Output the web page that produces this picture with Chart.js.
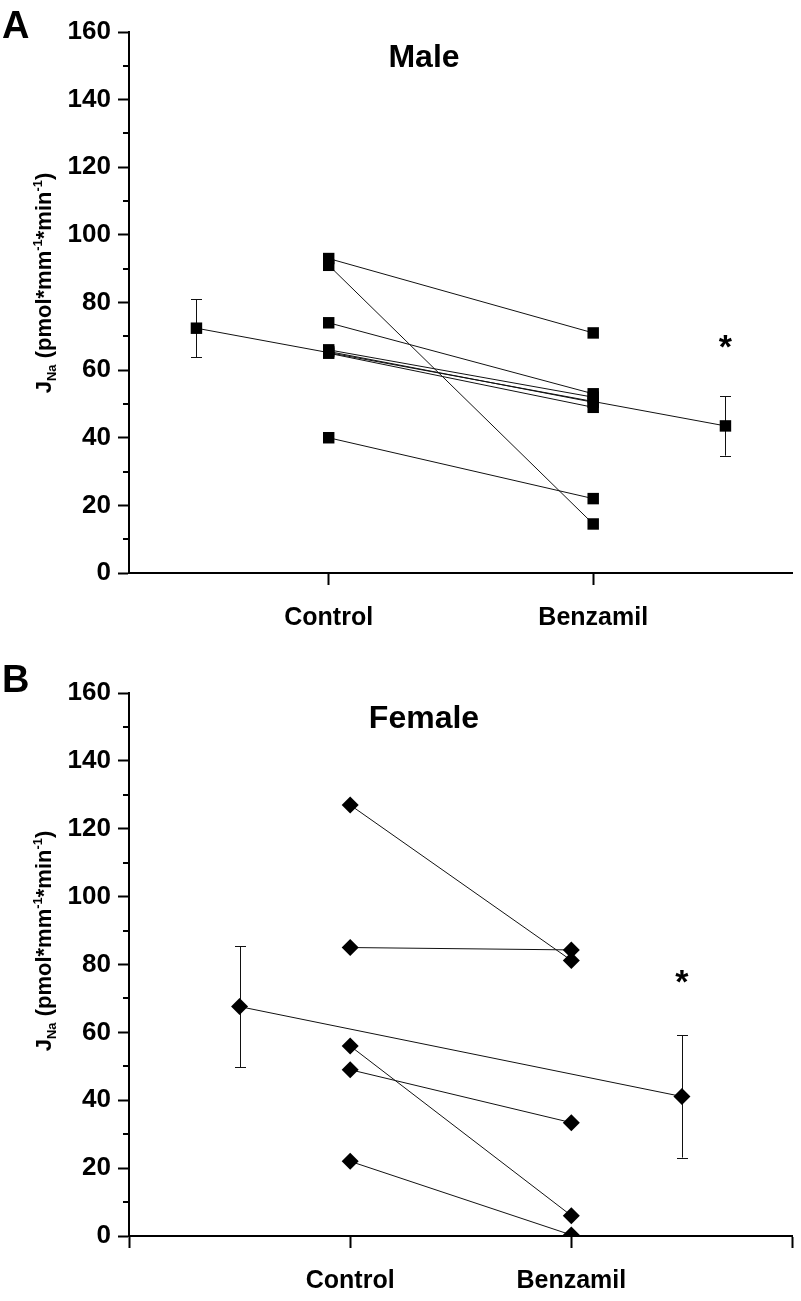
<!DOCTYPE html>
<html><head><meta charset="utf-8">
<script src="https://cdn.jsdelivr.net/npm/chart.js@4"></script>
<style>
html,body{margin:0;padding:0;background:#fff;overflow:hidden}
canvas{position:absolute;left:0;display:block}
</style></head>
<body>
<canvas id="cA" width="801" height="650" style="top:0;width:801px;height:650px"></canvas>
<canvas id="cB" width="801" height="651" style="top:650px;width:801px;height:651px"></canvas>
<script>
// ---- data ----
const categories = ['Control', 'Benzamil'];
const yTickValues = [0, 20, 40, 60, 80, 100, 120, 140, 160];
const yMinorValues = [10, 30, 50, 70, 90, 110, 130, 150];

const maleControl  = [93, 91, 74, 66, 65.5, 65, 40];
const maleBenzamil = [71, 14.5, 53, 52, 50.5, 49, 22];
const maleMean = [72.4, 43.5];
const maleSEM  = [8.6, 8.8];

const femaleControl  = [127, 85, 56, 49, 22];
const femaleBenzamil = [81.2, 84.3, 6, 33.4, 0.3];
const femaleMean = [67.6, 41.1];
const femaleSEM  = [17.8, 18.0];

const FONT = "'Liberation Sans', Arial, Helvetica, sans-serif";

function pairSets(ctrl, benz, mean, style, r) {
  const sets = ctrl.map((c, i) => ({
    data: [{x: 1, y: c}, {x: 2, y: benz[i]}],
    borderColor: '#111', borderWidth: 1, showLine: true,
    pointStyle: style, pointRadius: r, pointHoverRadius: r,
    pointBackgroundColor: '#000', pointBorderColor: '#000', pointBorderWidth: 0,
    clip: 0
  }));
  sets.push({
    data: [{x: 0.5, y: mean[0]}, {x: 2.5, y: mean[1]}],
    borderColor: '#111', borderWidth: 1, showLine: true,
    pointStyle: style, pointRadius: r, pointHoverRadius: r,
    pointBackgroundColor: '#000', pointBorderColor: '#000', pointBorderWidth: 0,
    clip: 0
  });
  return sets;
}

function deco(opts) {
  return {
    id: 'deco',
    beforeDatasetsDraw(chart) {
      const {ctx} = chart;
      const xs = chart.scales.x, ys = chart.scales.y;
      ctx.save();
      ctx.strokeStyle = '#111';
      ctx.lineWidth = 1;
      [0.5, 2.5].forEach((xv, i) => {
        const px = Math.round(xs.getPixelForValue(xv)) + 0.5;
        const top = ys.getPixelForValue(opts.mean[i] + opts.sem[i]);
        const bot = ys.getPixelForValue(opts.mean[i] - opts.sem[i]);
        ctx.beginPath();
        ctx.moveTo(px, top); ctx.lineTo(px, bot);
        ctx.moveTo(px - 5.5, Math.round(top) + 0.5); ctx.lineTo(px + 5.5, Math.round(top) + 0.5);
        ctx.moveTo(px - 5.5, Math.round(bot) + 0.5); ctx.lineTo(px + 5.5, Math.round(bot) + 0.5);
        ctx.stroke();
      });
      ctx.restore();
    },
    afterDraw(chart) {
      const {ctx, chartArea} = chart;
      const xs = chart.scales.x, ys = chart.scales.y;
      ctx.save();
      // minor ticks
      ctx.strokeStyle = '#000';
      ctx.lineWidth = 2;
      yMinorValues.forEach(v => {
        const py = Math.round(ys.getPixelForValue(v));
        ctx.beginPath();
        ctx.moveTo(chartArea.left - 6, py);
        ctx.lineTo(chartArea.left, py);
        ctx.stroke();
      });
      ctx.fillStyle = '#000';
      // panel letter
      ctx.font = 'bold 38px ' + FONT;
      ctx.textAlign = 'left';
      ctx.textBaseline = 'alphabetic';
      ctx.fillText(opts.letter, 2, opts.letterY);
      // title
      ctx.font = 'bold 32px ' + FONT;
      ctx.textAlign = 'center';
      ctx.fillText(opts.title, 424, opts.titleY);
      // asterisk
      ctx.font = 'bold 34px ' + FONT;
      ctx.fillText('*', xs.getPixelForValue(2.5), ys.getPixelForValue(opts.starY) + 20);
      // y label
      const parts = [
        ['J', 22, 0], ['Na', 13, 5], [' (pmol*mm', 22, 0], ['-1', 13, -9],
        ['*min', 22, 0], ['-1', 13, -9], [')', 22, 0]
      ];
      let total = 0;
      parts.forEach(p => { ctx.font = 'bold ' + p[1] + 'px ' + FONT; total += ctx.measureText(p[0]).width; });
      ctx.translate(51, opts.labelCY);
      ctx.rotate(-Math.PI / 2);
      ctx.textAlign = 'left';
      let x = -total / 2;
      parts.forEach(p => {
        ctx.font = 'bold ' + p[1] + 'px ' + FONT;
        ctx.fillText(p[0], x, p[2]);
        x += ctx.measureText(p[0]).width;
      });
      ctx.restore();
    }
  };
}

function makeChart(id, sets, cfg) {
  const chart = new Chart(document.getElementById(id), {
    type: 'scatter',
    data: {datasets: sets},
    options: {
      responsive: false, maintainAspectRatio: false, devicePixelRatio: 1,
      animation: false, events: [],
      layout: {padding: {top: cfg.padTop, left: 0, right: 1, bottom: 0}},
      plugins: {legend: {display: false}, tooltip: {enabled: false}, title: {display: false}},
      scales: {
        x: {
          type: 'linear', min: cfg.xmin, max: cfg.xmax,
          afterBuildTicks: s => { s.ticks = cfg.xTicks.map(v => ({value: v})); },
          afterFit: s => { s.height = cfg.xHeight; s.paddingLeft = 0; s.paddingRight = 0; },
          grid: {drawOnChartArea: false, drawTicks: true, tickLength: 12, tickWidth: 2, tickColor: '#000'},
          border: {display: true, color: '#000', width: 2},
          ticks: {
            color: '#000', padding: 18, maxRotation: 0, autoSkip: false,
            font: {family: FONT, size: 25, weight: 'bold'},
            callback: v => (v === 1 || v === 2) ? categories[v - 1] : ''
          }
        },
        y: {
          min: 0, max: 160,
          afterBuildTicks: s => { s.ticks = yTickValues.map(v => ({value: v})); },
          afterFit: s => { s.width = 129; },
          grid: {drawOnChartArea: false, drawTicks: true, tickLength: 11, tickWidth: 2, tickColor: '#000'},
          border: {display: true, color: '#000', width: 2},
          ticks: {
            color: '#000', padding: 7,
            font: {family: FONT, size: 26, weight: 'bold'},
            callback: v => String(v)
          }
        }
      }
    },
    plugins: [deco(cfg.deco)]
  });
  // nudge the plot area so its right edge lands where the reference has it
  for (let k = 0; k < 3; k++) {
    const diff = cfg.areaRight - chart.scales.x.right;
    if (Math.abs(diff) <= 0.5) break;
    chart.config.options.layout.padding.right -= diff;
    chart.update();
  }
  return chart;
}

makeChart('cA', pairSets(maleControl, maleBenzamil, maleMean, 'rect', 8.1), {
  padTop: 32, areaRight: 800, xmin: 0.245, xmax: 2.755, xTicks: [1, 2], xHeight: 77,
  deco: {mean: maleMean, sem: maleSEM, letter: 'A', letterY: 38, title: 'Male', titleY: 67, starY: 69.5, labelCY: 283}
});
makeChart('cB', pairSets(femaleControl, femaleBenzamil, femaleMean, 'rectRot', 8.5), {
  padTop: 43, areaRight: 799, xmin: 0, xmax: 3, xTicks: [0, 1, 2, 3], xHeight: 65,
  deco: {mean: femaleMean, sem: femaleSEM, letter: 'B', letterY: 42, title: 'Female', titleY: 78, starY: 77.5, labelCY: 291}
});
</script>
</body></html>
